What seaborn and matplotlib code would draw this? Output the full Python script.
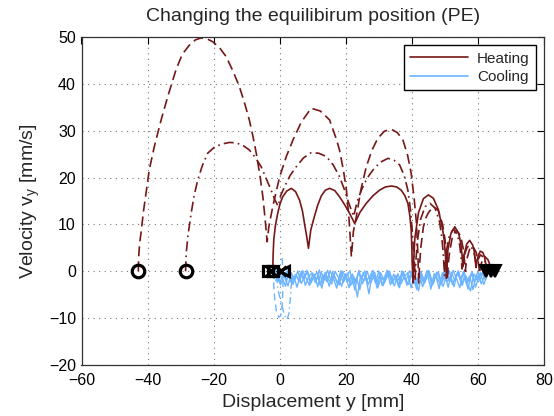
import numpy as np
import pandas as pd
import matplotlib
matplotlib.use("Agg")
import matplotlib.pyplot as plt
from matplotlib.lines import Line2D
import seaborn as sns

# ---------------- data ----------------
# Heating trajectory A (dashed)
heat_a_y = [-42.8, -42.7, -42.4, -42.0, -41.2, -40.3, -39.5, -38.0, -35.9, -33.8, -31.4, -29.5, -27.3,
            -25.5, -23.8, -22.0, -20.3, -18.2, -16.2, -14.2, -12.2, -10.6, -9.2, -8.1, -7.1, -6.0,
            -5.1, -4.4, -3.8,
            -3.3, -2.1, -1.0, 0.0, 2.0, 4.0, 6.5, 9.5, 12.3, 15.1, 17.0, 18.1, 19.3, 20.2, 21.0, 21.7,
            22.3, 23.2, 24.6, 26.2, 27.9, 29.7, 31.7, 33.8, 35.6, 37.3, 38.7, 39.8, 40.7, 41.4, 41.8, 42.1,
            42.3, 42.7, 43.5, 44.3, 45.0, 46.5, 48.0, 49.3, 50.0, 50.5, 50.8,
            51.0, 51.4, 52.3, 53.5, 54.8, 55.5, 55.9, 56.2,
            56.4, 56.8, 57.6, 58.5, 59.5, 60.0, 60.3, 60.5,
            60.7, 61.2, 62.0, 63.0, 63.6, 63.9, 64.2]
heat_a_v = [0.0, 3.0, 6.0, 8.1, 13.0, 17.5, 21.6, 26.5, 32.3, 37.5, 43.0, 46.3, 48.3,
            49.4, 49.8, 49.6, 49.0, 47.7, 45.8, 42.8, 39.4, 35.8, 32.3, 28.8, 25.2, 20.5,
            15.9, 11.0, 6.3,
            9.5, 13.8, 17.2, 20.2, 24.5, 28.0, 31.8, 34.8, 34.2, 32.3, 28.5, 25.9, 21.5, 17.3, 11.0, 3.1,
            8.5, 11.7, 17.5, 22.3, 25.8, 28.4, 29.9, 30.3, 29.6, 28.0, 24.8, 20.9, 15.5, 10.2, 4.0, -2.5,
            1.0, 5.0, 9.5, 11.5, 12.5, 13.8, 13.0, 10.0, 7.0, 3.5, -1.5,
            1.5, 4.0, 7.5, 8.8, 7.5, 5.0, 2.5, 0.0,
            1.5, 3.0, 5.0, 5.3, 4.0, 2.5, 1.0, -0.5,
            1.0, 2.0, 3.2, 2.5, 1.5, 0.6, 0.0]

# Heating trajectory B (dash-dot)
heat_b_y = [-28.5, -28.4, -28.3, -27.8, -26.8, -25.9, -24.8, -23.4, -21.8, -19.6, -17.2, -15.2, -13.2,
            -11.2, -9.2, -7.4, -5.6, -4.1, -2.6, -1.5, -0.5,
            0.3, 1.5, 3.2, 5.0, 7.2, 9.5, 11.8, 14.1, 16.2, 18.1, 19.5, 20.6, 21.6, 22.4,
            23.4, 24.7, 26.4, 28.2, 30.5, 32.8, 34.6, 36.3, 37.7, 38.8, 39.6, 40.1, 40.5, 40.8, 41.0,
            41.2, 41.6, 42.6, 44.0, 45.5, 47.0, 48.4, 49.0, 49.5, 49.9,
            50.1, 50.5, 51.4, 52.6, 53.8, 54.5, 54.9, 55.2,
            55.4, 55.9, 56.8, 57.8, 58.8, 59.2, 59.4,
            59.6, 60.0, 60.8, 61.7, 62.2, 62.5, 62.8]
heat_b_v = [0.0, 2.0, 3.8, 7.5, 12.4, 16.2, 19.5, 22.6, 25.2, 26.6, 27.2, 27.5, 27.4,
            26.9, 25.9, 24.3, 22.3, 19.8, 17.3, 15.3, 13.9,
            16.2, 18.1, 20.5, 22.3, 24.2, 25.3, 25.2, 24.5, 22.7, 20.2, 17.6, 15.2, 13.2, 11.7,
            14.8, 17.3, 19.8, 21.6, 23.3, 24.1, 23.7, 22.7, 20.4, 17.3, 13.0, 8.8, 4.5, 1.7, -2.0,
            2.0, 6.0, 11.0, 13.8, 14.5, 13.5, 10.5, 7.5, 4.0, -1.0,
            1.5, 4.5, 7.8, 9.0, 7.8, 5.5, 3.0, 0.5,
            1.5, 3.5, 5.2, 5.5, 4.0, 2.5, 1.0,
            1.5, 2.5, 3.5, 3.0, 2.0, 1.0, 0.0]

# Heating trajectory C (solid)
heat_c_y = [-2.1, -2.0, -1.8, -1.3, -0.6, 0.1, 0.9, 2.1, 3.5, 4.8, 6.0, 6.9, 7.5, 8.2, 8.7,
            9.4, 10.5, 11.5, 12.6, 13.8, 15.1, 16.7, 18.1, 19.4, 20.6, 21.7, 22.7,
            24.3, 26.2, 28.2, 30.2, 32.0, 33.8, 35.4, 36.8, 37.9, 38.8, 39.4, 39.8, 40.0, 40.1, 40.4,
            40.6, 40.9, 42.0, 43.5, 45.0, 46.5, 48.0, 49.3, 49.8, 50.2, 50.5,
            50.7, 50.9, 51.8, 53.0, 54.2, 54.8, 55.2, 55.4,
            55.6, 55.8, 56.6, 57.5, 58.4, 58.9, 59.2, 59.4,
            59.6, 59.9, 60.7, 61.5, 62.0, 62.4, 62.6]
heat_c_v = [0.0, 3.5, 6.7, 9.8, 12.4, 14.4, 15.9, 17.1, 17.7, 17.0, 15.2, 12.8, 10.2, 7.3, 4.9,
            8.8, 11.7, 14.1, 16.1, 17.3, 17.7, 17.2, 15.9, 14.5, 13.1, 11.6, 10.2,
            12.6, 14.5, 16.1, 17.3, 18.0, 18.2, 18.0, 17.3, 16.1, 14.5, 11.8, 8.8, 5.0, 1.7, -2.5,
            3.0, 7.0, 12.5, 15.5, 16.3, 15.6, 13.2, 9.0, 6.5, 3.0, -1.5,
            2.0, 4.5, 8.0, 9.5, 8.0, 6.0, 3.5, 1.0,
            2.0, 3.5, 5.8, 6.6, 5.6, 4.2, 2.5, 0.8,
            1.8, 2.8, 4.3, 4.0, 3.0, 1.5, 0.0]

# Cooling traces (noisy band near zero)
cool1_y = list(range(-2, 64))
cool1_v = [-1.0, 0.3, -2.5, -0.5, -1.8, 0.2, -2.8, -0.8, -2.2, 0.1, -1.5, -3.0, -0.4, -2.0, 0.3, -2.6,
           -1.0, -3.2, -0.2, -1.7, -2.9, 0.0, -1.3, -3.5, -0.6, -2.2, 0.2, -2.7, -1.1, -4.8, -0.5, -2.4,
           0.1, -3.0, -1.4, -0.2, -2.6, -1.0, -3.3, 0.1, -1.9, -2.8, -0.3, -1.5, -4.2, -0.7, -2.3, 0.2,
           -3.1, -1.2, -0.1, -2.5, -0.9, -3.4, -0.2, -2.0, 0.1, -2.9, -1.1, -3.8, -0.4, -2.2, 0.0, -2.7,
           -1.0, 0.0]
cool2_y = [v + 0.5 for v in range(-2, 63)]
cool2_v = [-0.5, -2.2, 0.2, -1.4, -3.1, -0.3, -1.9, 0.1, -2.6, -1.2, -0.1, -2.4, -0.7, -3.3, -0.2, -1.6,
           0.2, -2.1, -0.9, -2.8, 0.1, -1.8, -0.4, -3.0, -1.3, -5.5, -0.8, -2.0, 0.0, -2.5, -1.0, -3.6,
           -0.3, -1.7, 0.2, -2.9, -0.6, -2.1, -1.2, -0.1, -3.0, -0.8, -1.6, -3.9, -0.5, -2.4, 0.1, -1.3,
           -2.7, -0.2, -1.9, -3.2, -0.6, -2.2, 0.2, -1.5, -3.5, -0.3, -2.6, -1.0, -3.9, -0.7, -2.0, -0.2,
           -1.1]
cool5_y = [v + 0.25 for v in range(-2, 63)]
cool5_v = [-1.6, -0.2, -2.9, -0.9, 0.1, -2.3, -1.1, -3.4, -0.4, -1.8, 0.2, -2.7, -1.3, -0.2, -3.0, -0.8,
           -2.2, 0.1, -1.5, -3.6, -0.6, -2.4, -1.0, 0.1, -2.8, -1.4, -3.9, -0.3, -2.0, -1.1, 0.2, -2.6,
           -0.7, -3.1, -1.6, 0.0, -2.3, -0.9, -3.5, -0.4, -2.0, 0.1, -1.2, -2.9, -0.6, -3.3, -1.5, 0.0,
           -2.5, -0.8, -3.7, -0.3, -1.9, 0.2, -2.8, -1.2, -0.2, -3.0, -0.9, -2.2, -0.1, -3.4, -1.3, -0.4,
           -1.8]
cool6_y = [v + 0.75 for v in range(-2, 63)]
cool6_v = [-2.0, -0.6, -1.4, -3.2, -0.1, -2.5, -0.7, -1.9, 0.1, -3.0, -1.2, -0.3, -2.4, -0.9, -3.6, -0.2,
           -1.8, -2.7, 0.0, -1.3, -3.2, -0.5, -2.1, -0.9, -4.0, -0.4, -1.6, 0.1, -2.9, -1.0, -0.2, -3.4,
           -1.3, -2.2, 0.1, -1.7, -3.1, -0.5, -2.6, -1.1, -0.3, -3.5, -1.0, -2.0, 0.0, -2.6, -0.8, -3.8,
           -0.5, -1.6, -2.9, 0.1, -2.2, -1.0, -3.3, -0.4, -1.8, 0.1, -2.5, -4.2, -0.6, -1.9, -0.3, -2.8,
           -1.0]
cool3_y = [-2.0, -1.8, -1.5, -1.0, -0.3, 0.3, 0.8, 1.0, 0.9, 0.6]
cool3_v = [0.0, -3.0, -6.0, -8.5, -9.8, -9.5, -7.0, -3.0, 1.0, 3.8]
cool4_y = [-1.0, -0.5, 0.5, 1.5, 2.2, 2.8, 3.2, 3.5, 4.0]
cool4_v = [-1.0, -4.0, -7.0, -9.5, -10.3, -9.0, -6.0, -3.0, -1.0]

start_circle_y = [-42.8, -28.5]
start_square_y = [-3.4, -2.0]
start_x_y = [-2.7, 0.3]
start_tri_y = [1.3]
end_tri_y = [62.4, 63.9, 65.2]

HEAT = "#761818"
COOL = "#6cb4ff"

# ---------------- plotting ----------------
sns.set_style("white")
plt.rcParams["font.family"] = ["Liberation Sans", "DejaVu Sans"]
plt.rcParams["mathtext.fontset"] = "custom"
plt.rcParams["mathtext.rm"] = "Liberation Sans"
plt.rcParams["mathtext.it"] = "Liberation Sans"

fig = plt.figure(figsize=(5.54, 4.16), dpi=100)
ax = fig.add_axes([81.5 / 554, 51 / 416, 462.5 / 554, 328 / 416])

# cooling first (below heating)
for cy, cv in [(cool1_y, cool1_v), (cool2_y, cool2_v), (cool5_y, cool5_v), (cool6_y, cool6_v)]:
    sns.lineplot(x=cy, y=cv, sort=False, estimator=None, color=COOL, lw=1.0, ax=ax)
sns.lineplot(x=cool3_y, y=cool3_v, sort=False, estimator=None, color=COOL, lw=1.0,
             linestyle=(0, (5, 3)), ax=ax)
sns.lineplot(x=cool4_y, y=cool4_v, sort=False, estimator=None, color=COOL, lw=1.0,
             linestyle=(0, (5, 2.5, 1, 2.5)), ax=ax)

sns.lineplot(x=heat_a_y, y=heat_a_v, sort=False, estimator=None, color=HEAT, lw=1.2,
             linestyle=(0, (6, 3)), ax=ax)
sns.lineplot(x=heat_b_y, y=heat_b_v, sort=False, estimator=None, color=HEAT, lw=1.2,
             linestyle=(0, (6, 2.5, 1, 2.5)), ax=ax)
sns.lineplot(x=heat_c_y, y=heat_c_v, sort=False, estimator=None, color=HEAT, lw=1.2, ax=ax)

# markers
ax.plot(start_circle_y, [0] * len(start_circle_y), "o", mfc="none", mec="black", mew=2.3, ms=9, zorder=5)
ax.plot(start_square_y, [0] * len(start_square_y), "s", mfc="none", mec="black", mew=2.3, ms=7, zorder=5)
ax.plot(start_x_y, [0] * len(start_x_y), "x", mec="black", mew=2.3, ms=7.5, zorder=5)
ax.plot(start_tri_y, [0] * len(start_tri_y), "<", mfc="none", mec="black", mew=2.3, ms=7.5, zorder=5)
ax.plot(end_tri_y, [0] * len(end_tri_y), "v", mfc="black", mec="black", mew=1.5, ms=8.5, zorder=5)

ax.set_xlim(-60, 80)
ax.set_ylim(-20, 50)
ax.set_xticks([-60, -40, -20, 0, 20, 40, 60, 80])
ax.set_yticks([-20, -10, 0, 10, 20, 30, 40, 50])
ax.grid(True, color="#555555", linestyle=(0, (1, 4)), lw=0.8, alpha=0.8)
ax.tick_params(direction="in", top=True, right=True, length=5, width=0.8,
               labelsize=11.5, colors="black")
ax.tick_params(axis="x", pad=6)
ax.tick_params(axis="y", pad=4)
for s in ax.spines.values():
    s.set_color("#333333")
    s.set_linewidth(0.9)

ax.set_title("Changing the equilibirum position (PE)", fontsize=14, pad=11.5)
ax.set_xlabel("Displacement y [mm]", fontsize=14, labelpad=4)
ax.set_ylabel(r"Velocity v$_{\mathrm{y}}$ [mm/s]", fontsize=14, labelpad=5)

handles = [Line2D([0], [0], color=HEAT, lw=1.2), Line2D([0], [0], color=COOL, lw=1.2)]
leg = ax.legend(handles, ["Heating", "Cooling"], loc="upper right", fontsize=11,
                frameon=True, fancybox=False, edgecolor="black", framealpha=1,
                handlelength=3.8, handletextpad=0.55, labelspacing=0.3,
                borderpad=0.4, borderaxespad=0.55)
leg.get_frame().set_linewidth(1.0)

fig.savefig("out.png", dpi=100)
